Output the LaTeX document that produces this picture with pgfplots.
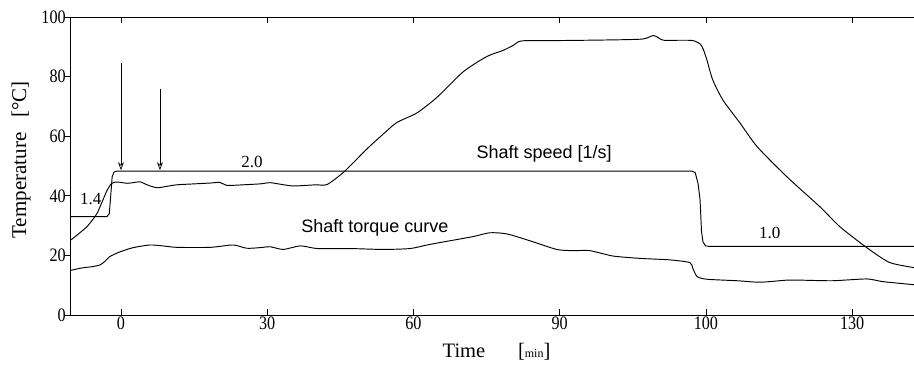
\documentclass[border=0pt]{standalone}
\usepackage{pgfplots}
\pgfplotsset{compat=1.18}
\usepackage{fontspec}
\setmainfont{Liberation Serif}
\newfontfamily\sansf{Liberation Sans}
\usetikzlibrary{arrows.meta}

\pgfplotstableread{
x y
-10.25 25.2
-8.5 27.5
-7 29.6
-5.9 31.8
-4.9 34.1
-3.7 38.6
-2.8 42
-2.0 44
-1.2 44.6
0 44.5
1.2 44.2
2.5 44.4
3.9 44.7
5.5 43.6
7.4 42.7
9.5 43.2
11.5 43.7
15 44.0
18.5 44.3
20.3 44.5
21.7 43.5
24 43.6
28.5 44
30.6 44.4
33 43.8
35.3 43.3
38 43.5
40 43.7
42.3 43.8
45.8 48.1
50.5 55.8
54 61
56.6 64.6
60.7 67.8
64.8 73
70.2 81.6
75 86.7
78.4 88.8
80.5 90.5
82.3 92
90 92.1
100 92.3
107 92.6
109.2 93.8
110.3 93.0
111.3 92.2
115 92.2
117.3 92.1
118.8 91
119.5 89
120.2 85.6
121.4 78.9
123.5 72.1
127 64.4
130.5 56.5
136.6 46.4
143.4 36.3
147.5 29.6
153 22.6
157.7 17.6
163.1 15.8
}\temp

\pgfplotstableread{
x y
-10.25 15.0
-8 15.8
-6 16.2
-4.3 16.8
-3.3 18
-2.3 19.6
-0.2 21.2
2.5 22.6
5.9 23.5
8.5 23.2
11.5 22.7
18.3 22.7
23 23.5
25.8 22.4
28.5 22.6
30.6 22.9
33.3 22.0
36.8 23.2
40.3 22.3
47 22.3
53.8 22.0
59.3 22.3
62.8 23.5
65.4 24.3
72.2 26.3
75.7 27.6
79.2 27.2
83.9 24.9
89.4 22.0
92.7 21.6
96.2 21.6
100.9 19.8
106.5 19.0
112.6 18.5
116.7 17.6
117.3 15.7
118.2 12.9
120.2 12.0
126.4 11.5
131.1 11.0
136.6 11.7
139.3 11.7
146 11.5
153 12.1
156.3 11.2
163.1 10.1
}\torque

\pgfplotstableread{
x y
-10.25 33
-2.9 33
-2.4 34
-2.1 40
-1.8 46.5
-1.4 48
-0.8 48.3
117.1 48.3
117.8 47.8
118.4 44
118.8 38.6
119.1 28
119.4 24.5
119.9 23.2
120.8 23
163.1 23
}\speed

\begin{document}
\begin{tikzpicture}
\begin{axis}[
  scale only axis, width=845pt, height=298pt,
  xmin=-10.25, xmax=163.1, ymin=0, ymax=100,
  xtick={0,30,60,90,120,150}, xticklabels={0,30,60,90,100,130},
  ytick={0,20,40,60,80,100},
  xtick align=inside, ytick align=outside,
  major tick length=6pt,
  axis line style={line width=1pt},
  tick style={line width=0.8pt, black},
  /pgf/number format/assume math mode=true,
  tick label style={font=\fontsize{19}{22}\selectfont, xscale=0.85},
  yticklabel style={inner sep=0pt, xshift=1pt},
  xticklabel style={inner sep=2pt},
  xlabel={Time\hspace{1.6em}[{\fontsize{12}{14}\selectfont min}]},
  ylabel={Temperature\hspace{0.7em}[\textdegree C]},
  xlabel style={at={(axis description cs:0.5036,-0.124)}, anchor=center, font=\fontsize{20.5}{24}\selectfont},
  ylabel style={at={(axis description cs:-0.0592,0.52)}, anchor=center, font=\fontsize{21}{24}\selectfont},
]
\addplot[black, line width=0.95pt, smooth, tension=0.4] table[x=x,y=y] {\temp};
\addplot[black, line width=0.95pt, smooth, tension=0.4] table[x=x,y=y] {\torque};
\addplot[black, line width=0.95pt, sharp plot] table[x=x,y=y] {\speed};
\draw[line width=0.7pt, -{Stealth[length=8pt,width=6pt,open]}] (axis cs:0,84.5) -- (axis cs:0,48.6);
\draw[line width=0.7pt, -{Stealth[length=8pt,width=6pt,open]}] (axis cs:8,76) -- (axis cs:8,48.6);
\node[anchor=west, inner sep=0pt, font=\fontsize{17}{20}\selectfont] at (axis cs:-8.4,39) {1.4};
\node[inner sep=0pt, font=\fontsize{17}{20}\selectfont] at (axis cs:26.9,51.4) {2.0};
\node[inner sep=0pt, font=\fontsize{17}{20}\selectfont] at (axis cs:133.1,27.4) {1.0};
\node[inner sep=0pt, font=\sansf\fontsize{18}{21}\selectfont] at (axis cs:86.8,54) {Shaft speed [1/s]};
\node[inner sep=0pt, font=\sansf\fontsize{18}{21}\selectfont] at (axis cs:52.1,29.4) {Shaft torque curve};
\end{axis}
\pgfresetboundingbox
\path ([xshift=-71pt,yshift=-58pt]current axis.south west) rectangle ([xshift=-2pt,yshift=17pt]current axis.north east);
\end{tikzpicture}
\end{document}
